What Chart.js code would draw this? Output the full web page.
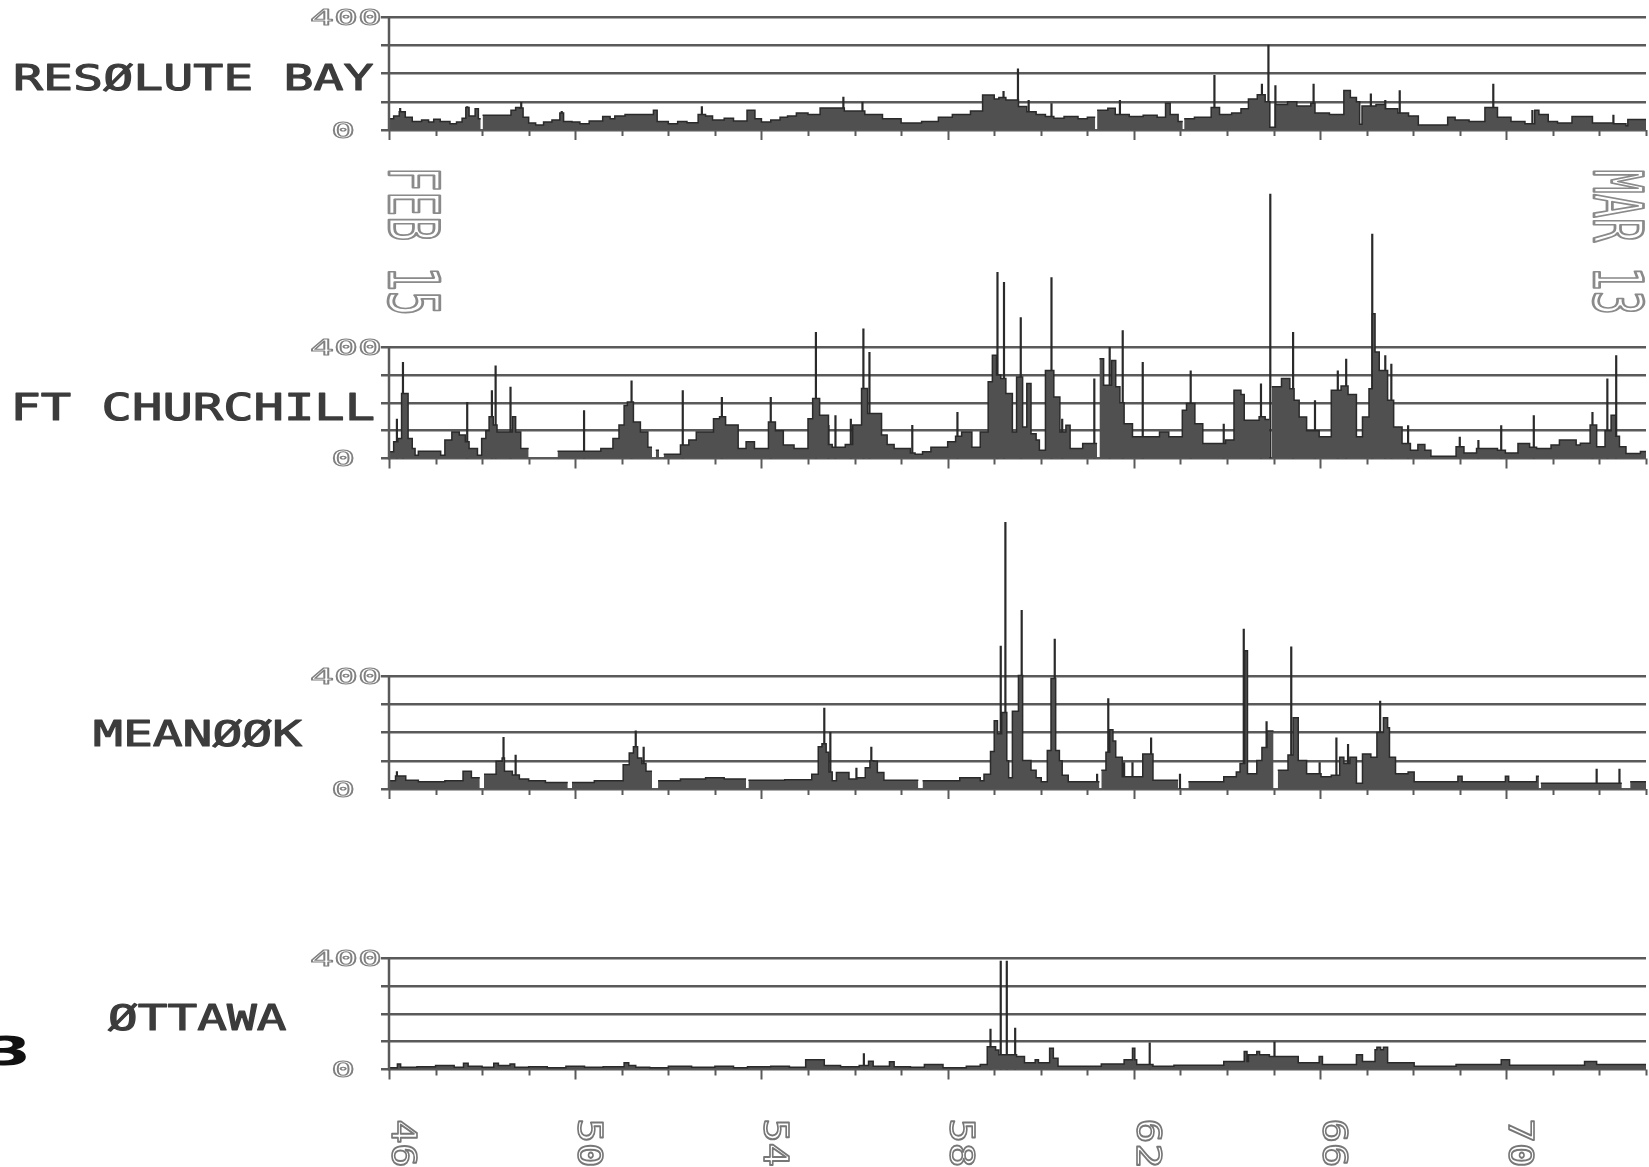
<!DOCTYPE html>
<html>
<head>
<meta charset="utf-8">
<script src="https://cdn.jsdelivr.net/npm/chart.js@4.4.1/dist/chart.umd.min.js"></script>
<style>
  html, body { margin: 0; padding: 0; background: #fff; }
  #wrap { position: relative; width: 1649px; height: 1167px; overflow: hidden; }
  #wrap canvas { position: absolute; left: 0; top: 0; }
</style>
</head>
<body>
<div id="wrap">
  <canvas id="c0" width="1649" height="1167"></canvas>
  <canvas id="c1" width="1649" height="1167"></canvas>
  <canvas id="c2" width="1649" height="1167"></canvas>
  <canvas id="c3" width="1649" height="1167"></canvas>
</div>
<script>
// day of year, Feb 15 (46) .. end of Mar 13 (73)
const dayMin = 46;
const dayMax = 73;
const xTickValues = [46, 50, 54, 58, 62, 66, 70];
const xTickLabels = ["46", "50", "54", "58", "62", "66", "70"];
const yGridValues = [0, 100, 200, 300, 400];
const yLabelValues = [0, 400];
const yLabelText = ["0", "400"];
const stations = ["RESØLUTE BAY", "FT CHURCHILL", "MEANØØK", "ØTTAWA"];
const dateLabels = ["FEB 15", "MAR 13"];

// [day, value] step levels (null = no data)
const resoluteBase = [
  [46.00, 40], [46.10, 50], [46.22, 65], [46.35, 45], [46.50, 30], [46.70, 35], [46.85, 28], [46.96, 38],
  [47.10, 30], [47.31, 22], [47.45, 28], [47.57, 42], [47.65, 80], [47.72, 50], [47.85, 75], [47.92, 40],
  [47.97, null], [48.01, 52], [48.62, 70], [48.72, 80], [48.80, 78], [48.88, 45], [49.00, 25], [49.15, 18],
  [49.32, 28], [49.50, 35], [49.67, 60], [49.75, 30], [49.93, 28], [50.10, 22], [50.30, 32], [50.59, 48],
  [50.75, 40], [50.85, 50], [51.07, 55], [51.68, 70], [51.76, 30], [52.00, 22], [52.20, 30], [52.40, 26],
  [52.64, 55], [52.80, 50], [52.95, 35], [53.20, 42], [53.40, 32], [53.69, 70], [53.86, 40], [54.00, 28],
  [54.20, 35], [54.40, 45], [54.56, 50], [54.75, 60], [55.00, 55], [55.26, 78], [55.78, 67], [56.22, 55],
  [56.60, 40], [57.00, 25], [57.44, 30], [57.80, 45], [58.10, 55], [58.49, 67], [58.75, 124], [59.00, 110],
  [59.10, 115], [59.25, 106], [59.52, 83], [59.70, 65], [59.90, 55], [60.10, 48], [60.28, 42], [60.50, 48],
  [60.80, 40], [61.00, 45], [61.17, null], [61.21, 70], [61.44, 77], [61.60, 55], [61.90, 48], [62.20, 52],
  [62.50, 45], [62.68, 95], [62.78, 55], [62.95, 30], [63.05, null], [63.08, 40], [63.30, 45], [63.66, 80],
  [63.84, 55], [64.10, 60], [64.30, 75], [64.46, 110], [64.65, 125], [64.82, 100], [64.92, 10], [65.04, 90],
  [65.30, 100], [65.50, 85], [65.80, 95], [65.89, 60], [66.20, 55], [66.51, 140], [66.65, 115], [66.78, 100],
  [66.85, 20], [66.90, 85], [67.20, 90], [67.40, 75], [67.67, 60], [67.90, 50], [68.11, 18], [68.74, 45],
  [68.90, 35], [69.20, 30], [69.54, 80], [69.81, 45], [70.10, 30], [70.40, 22], [70.61, 70], [70.70, 55],
  [70.90, 30], [71.10, 25], [71.41, 48], [71.85, 25], [72.30, 22], [72.57, 15], [72.61, 37]
];
const resoluteSpikes = [
  [46.24, 78], [47.68, 84], [48.84, 99], [49.71, 67], [52.72, 84], [55.76, 118], [56.17, 100], [59.20, 138],
  [59.51, 218], [59.74, 106], [60.23, 95], [61.70, 106], [63.73, 195], [64.75, 164], [64.89, 302], [65.04, 158],
  [65.86, 164], [67.09, 129], [67.40, 106], [67.71, 141], [69.72, 164], [70.56, 71], [72.30, 54]
];

const churchillBase = [
  [46.00, 24], [46.10, 60], [46.19, 72], [46.27, 233], [46.41, 72], [46.50, 36], [46.56, 12], [46.63, 26],
  [47.11, 12], [47.20, 66], [47.35, 95], [47.51, 84], [47.64, 60], [47.72, 36], [47.90, 12], [47.99, 72],
  [48.08, 100], [48.15, 150], [48.24, 120], [48.32, 95], [48.58, 95], [48.65, 150], [48.72, 95], [48.83, 36],
  [49.00, null], [49.62, 26], [50.55, 36], [50.81, 72], [50.94, 120], [51.05, 190], [51.12, 203], [51.25, 131],
  [51.40, 95], [51.56, 40], [51.65, null], [51.73, 30], [51.80, null], [51.90, 15], [52.26, 48], [52.44, 66],
  [52.60, 95], [52.79, 95], [52.97, 143], [53.10, 150], [53.23, 120], [53.50, 36], [53.67, 60], [53.85, 36],
  [54.15, 131], [54.30, 100], [54.47, 48], [54.70, 36], [55.00, 143], [55.10, 215], [55.25, 155], [55.44, 50],
  [55.52, 40], [55.80, 50], [55.96, 120], [56.15, 251], [56.28, 161], [56.58, 84], [56.70, 50], [56.85, 36],
  [57.20, 20], [57.30, 15], [57.46, 24], [57.64, 40], [58.00, 60], [58.17, 80], [58.30, 95], [58.52, 40],
  [58.70, 95], [58.87, 275], [58.96, 370], [59.05, 300], [59.14, 287], [59.25, 233], [59.39, 95], [59.48, 292],
  [59.61, 113], [59.70, 269], [59.79, 89], [59.90, 66], [59.97, 30], [60.10, 316], [60.28, 221], [60.41, 95],
  [60.54, 119], [60.63, 36], [60.90, 54], [61.21, null], [61.26, 358], [61.35, 263], [61.52, 352], [61.61, 257],
  [61.70, 200], [61.79, 125], [61.97, 78], [62.55, 95], [62.75, 78], [63.04, 173], [63.13, 197], [63.31, 125],
  [63.48, 54], [63.97, 66], [64.15, 245], [64.30, 230], [64.37, 137], [64.69, 150], [64.82, 140], [64.91, null],
  [64.96, 257], [65.17, 287], [65.35, 250], [65.44, 209], [65.55, 149], [65.71, 100], [65.98, 78], [66.24, 245],
  [66.45, 260], [66.60, 230], [66.78, 78], [66.91, 149], [67.05, 250], [67.12, 519], [67.18, 382], [67.27, 316],
  [67.45, 209], [67.58, 113], [67.76, 54], [67.94, 30], [68.10, 50], [68.25, 30], [68.38, 8], [68.92, 42],
  [69.09, 20], [69.36, 36], [69.81, 30], [69.98, 20], [70.25, 54], [70.50, 40], [70.65, 36], [70.96, 48],
  [71.14, 66], [71.50, 48], [71.59, 55], [71.80, 120], [71.94, 42], [72.12, 100], [72.25, 155], [72.35, 80],
  [72.43, 42], [72.57, 18], [72.88, 25]
];
const churchillSpikes = [
  [46.17, 143], [46.30, 346], [47.68, 203], [48.21, 245], [48.29, 334], [48.61, 257], [50.19, 173], [51.21, 280],
  [52.31, 245], [53.15, 221], [54.20, 221], [55.17, 454], [55.44, 120], [55.59, 155], [55.92, 143], [56.19, 466],
  [56.32, 382], [57.24, 120], [58.21, 167], [59.07, 669], [59.21, 633], [59.57, 507], [60.23, 650], [60.46, 143],
  [61.15, 287], [61.48, 400], [61.76, 460], [62.19, 346], [63.22, 316], [63.93, 125], [64.73, 269], [64.93, 950],
  [65.42, 454], [65.89, 209], [66.38, 316], [66.56, 358], [67.12, 806], [67.40, 370], [67.53, 340], [67.89, 119],
  [69.00, 78], [69.40, 66], [69.89, 119], [70.59, 155], [71.85, 167], [72.17, 287], [72.36, 370]
];

const meanookBase = [
  [46.00, 29], [46.14, 46], [46.36, 31], [46.63, 26], [47.20, 29], [47.59, 63], [47.77, 40], [47.95, null],
  [48.04, 52], [48.30, 98], [48.43, 110], [48.48, 63], [48.65, 50], [48.80, 35], [49.00, 29], [49.36, 23],
  [49.84, null], [49.93, 23], [50.41, 29], [51.03, 86], [51.16, 127], [51.25, 150], [51.34, 110], [51.43, 90],
  [51.52, 63], [51.65, null], [51.78, 29], [52.26, 35], [52.80, 40], [53.20, 35], [53.67, null], [53.72, 31],
  [54.50, 33], [55.08, 52], [55.22, 150], [55.30, 160], [55.39, 130], [55.45, 60], [55.52, 29], [55.61, 58],
  [55.88, 35], [56.05, 40], [56.23, 75], [56.33, 100], [56.41, 98], [56.49, 58], [56.63, 31], [57.37, null],
  [57.46, 29], [58.26, 40], [58.70, 29], [58.78, 52], [58.92, 133], [59.00, 242], [59.07, 196], [59.16, 271],
  [59.27, 100], [59.31, 40], [59.39, 275], [59.52, 402], [59.61, 101], [59.79, 66], [59.90, 40], [60.01, 26],
  [60.14, 136], [60.22, 391], [60.32, 136], [60.40, 100], [60.46, 49], [60.59, 26], [61.26, null], [61.30, 66],
  [61.40, 130], [61.48, 210], [61.55, 170], [61.61, 112], [61.75, 43], [62.19, 124], [62.41, 31], [62.95, null],
  [63.17, 26], [63.93, 43], [64.20, 60], [64.28, 90], [64.38, 489], [64.44, 54], [64.64, 101], [64.75, 147],
  [64.86, 205], [65.00, null], [65.09, 66], [65.31, 120], [65.42, 252], [65.53, 101], [65.71, 54], [66.02, 43],
  [66.24, 49], [66.42, 112], [66.51, 90], [66.64, 112], [66.78, 20], [66.91, 124], [67.09, 112], [67.22, 200],
  [67.36, 252], [67.45, 217], [67.49, 112], [67.62, 54], [67.89, 60], [68.02, 26], [68.96, 45], [69.05, 26],
  [69.98, 45], [70.05, 26], [70.65, 45], [70.70, null], [70.74, 20], [72.48, null], [72.66, 26]
];
const meanookSpikes = [
  [46.17, 63], [48.46, 184], [48.72, 121], [51.30, 207], [51.47, 150], [55.35, 288], [55.48, 202], [56.04, 75],
  [56.36, 150], [59.14, 507], [59.24, 945], [59.59, 634], [60.30, 532], [61.21, 54], [61.45, 321], [61.79, 95],
  [61.97, 95], [62.37, 182], [62.99, 54], [64.36, 567], [64.85, 240], [64.95, 205], [65.38, 504], [65.99, 95],
  [66.35, 182], [66.60, 159], [67.29, 312], [71.94, 72], [72.43, 72]
];

const ottawaBase = [
  [46.00, 6], [46.18, 20], [46.25, 8], [46.60, 10], [47.00, 14], [47.40, 8], [47.60, 22], [47.70, 12],
  [48.00, 8], [48.25, 22], [48.35, 14], [48.60, 20], [48.70, 8], [49.00, 10], [49.40, 6], [49.80, 12],
  [50.20, 8], [50.60, 10], [51.05, 24], [51.15, 14], [51.30, 8], [51.60, 6], [52.00, 12], [52.50, 8],
  [53.00, 12], [53.40, 6], [53.70, 10], [54.20, 12], [54.60, 8], [54.95, 35], [55.35, 14], [55.70, 10],
  [56.10, 14], [56.30, 30], [56.40, 12], [56.75, 28], [56.85, 10], [57.20, 8], [57.50, 18], [57.90, 6],
  [58.40, 12], [58.70, 18], [58.85, 82], [59.03, 70], [59.10, 53], [59.48, 47], [59.65, 24], [59.88, 35],
  [59.95, 24], [60.19, 76], [60.27, 40], [60.37, 12], [61.30, 20], [61.79, 35], [61.97, 76], [62.02, 35],
  [62.06, 18], [62.41, 12], [62.86, 15], [63.93, 29], [64.37, 65], [64.43, 29], [64.46, 53], [64.64, 65],
  [64.70, 53], [64.91, 47], [65.53, 24], [65.98, 47], [66.05, 18], [66.78, 53], [66.91, 29], [67.18, 71],
  [67.22, 80], [67.30, 71], [67.36, 80], [67.45, 24], [68.02, 12], [68.92, 18], [69.89, 35], [70.07, 15],
  [71.68, 29], [71.94, 18]
];
const ottawaSpikes = [
  [56.20, 58], [58.92, 146], [59.14, 390], [59.27, 390], [59.45, 150], [62.34, 97], [65.02, 100]
];

const seriesBase = [resoluteBase, churchillBase, meanookBase, ottawaBase];
const seriesSpikes = [resoluteSpikes, churchillSpikes, meanookSpikes, ottawaSpikes];

// page layout in px: top of plot area, 400 line, zero line, station label box
const panels = [
  { top: 17, y400: 17, y0: 130, name: { cx: 194.5, cy: 77.5, w: 357 } },
  { top: 180, y400: 347, y0: 458.5, name: { cx: 194.5, cy: 406.5, w: 357 } },
  { top: 505, y400: 676, y0: 789, name: { cx: 198.5, cy: 733, w: 207 } },
  { top: 958, y400: 958, y0: 1069.5, name: { cx: 197, cy: 1017, w: 178 } },
];

const GRID = "#5a5a5a";
const FILL = "#505050";
const EDGE = "#2a2a2a";
const PALE = "#8a8a8a";

function stepPoints(base) {
  const pts = [];
  let prev = null;
  base.forEach(([d, v]) => {
    if (v === null && prev !== null) pts.push({ x: d, y: prev });
    pts.push({ x: d, y: v });
    prev = v;
  });
  if (prev !== null) pts.push({ x: dayMax, y: prev });
  return pts;
}

function spikePoints(spikes) {
  const pts = [];
  spikes.forEach(([d, v]) => {
    pts.push({ x: d, y: 0 }, { x: d, y: v }, { x: d, y: null });
  });
  return pts;
}

// text squeezed to an ink box of w x h, centred on cx,cy
function drawFit(ctx, text, cx, cy, w, h, rot, opts) {
  ctx.save();
  ctx.font = (opts.weight || "normal") + " 100px " + (opts.family || '"DejaVu Sans Mono"');
  const m = ctx.measureText(text);
  const inkW = m.actualBoundingBoxLeft + m.actualBoundingBoxRight;
  const inkH = m.actualBoundingBoxAscent + m.actualBoundingBoxDescent;
  ctx.translate(cx, cy);
  ctx.rotate(rot);
  ctx.scale(w / inkW, h / inkH);
  ctx.textAlign = "left";
  ctx.textBaseline = "alphabetic";
  const x0 = -inkW / 2 + m.actualBoundingBoxLeft;
  const y0 = -inkH / 2 + m.actualBoundingBoxAscent;
  if (opts.fill) {
    ctx.fillStyle = opts.fill;
    ctx.fillText(text, x0, y0);
  }
  if (opts.stroke) {
    ctx.strokeStyle = opts.stroke;
    ctx.lineWidth = opts.lw || 4;
    ctx.lineJoin = "round";
    ctx.strokeText(text, x0, y0);
  }
  ctx.restore();
}

function decor(i) {
  return {
    id: "decor" + i,
    afterDraw(chart) {
      const ctx = chart.ctx;
      const xs = chart.scales.x;
      const ys = chart.scales.y;
      const p = panels[i];
      const left = xs.getPixelForValue(dayMin);
      const zero = ys.getPixelForValue(0);

      ctx.save();
      ctx.strokeStyle = GRID;
      ctx.lineWidth = 2.5;
      ctx.beginPath();
      ctx.moveTo(left, zero + 1);
      ctx.lineTo(left, ys.getPixelForValue(400) - 1);
      ctx.stroke();

      // day ticks under the zero line
      ctx.lineWidth = 2;
      for (let d = dayMin; d <= dayMax; d++) {
        const x = Math.round(xs.getPixelForValue(d)) + 0.5;
        const len = (d - dayMin) % 4 === 0 ? 10 : 6;
        ctx.beginPath();
        ctx.moveTo(x, zero);
        ctx.lineTo(x, zero + len);
        ctx.stroke();
      }
      ctx.restore();

      yLabelValues.forEach((v, k) => {
        const t = yLabelText[k];
        const w = t.length === 1 ? 19 : 68;
        const cx = t.length === 1 ? 343 : 345.5;
        drawFit(ctx, t, cx, ys.getPixelForValue(v), w, 16, 0, { stroke: "#808080", lw: 5 });
      });

      drawFit(ctx, stations[i], p.name.cx, p.name.cy, p.name.w, 28, 0,
        { fill: "#3c3c3c", stroke: "#3c3c3c", lw: 3 });

      if (i === 0) {
        drawFit(ctx, dateLabels[0], xs.getPixelForValue(dayMin) + 25, 242, 142, 52, Math.PI / 2,
          { stroke: PALE, lw: 4 });
        drawFit(ctx, dateLabels[1], xs.getPixelForValue(dayMax) - 27, 241.5, 141, 52, Math.PI / 2,
          { stroke: PALE, lw: 4 });
      }
      if (i === 3) {
        xTickValues.forEach((v, k) => {
          drawFit(ctx, xTickLabels[k], xs.getPixelForValue(v) + 15, 1143, 44, 25, Math.PI / 2,
            { stroke: "#777", lw: 5 });
        });
        drawFit(ctx, "3", 8, 1050, 36, 30, 0, { fill: "#111", weight: "bold", family: '"DejaVu Sans"' });
      }
    },
  };
}

function makeChart(i) {
  const p = panels[i];
  const yMax = (400 * (p.y0 - p.top)) / (p.y0 - p.y400);
  return new Chart(document.getElementById("c" + i), {
    type: "line",
    data: {
      datasets: [
        {
          data: stepPoints(seriesBase[i]),
          stepped: true,
          fill: "origin",
          backgroundColor: FILL,
          borderColor: EDGE,
          borderWidth: 1.5,
          pointRadius: 0,
          spanGaps: false,
        },
        {
          data: spikePoints(seriesSpikes[i]),
          fill: false,
          borderColor: EDGE,
          borderWidth: 2.2,
          borderCapStyle: "butt",
          pointRadius: 0,
          spanGaps: false,
        },
      ],
    },
    options: {
      responsive: false,
      animation: false,
      events: [],
      layout: { padding: { left: 381, right: 3, top: p.top, bottom: 1167 - p.y0 } },
      plugins: { legend: { display: false }, tooltip: { enabled: false } },
      scales: {
        x: { type: "linear", min: dayMin, max: dayMax, display: false },
        y: {
          min: 0,
          max: yMax,
          afterBuildTicks: (s) => {
            s.ticks = yGridValues.map((v) => ({ value: v }));
          },
          afterFit: (s) => {
            s.width = 8;
          },
          ticks: { display: false },
          border: { display: false },
          grid: { color: GRID, lineWidth: 2.5, tickLength: 8, drawTicks: true },
        },
      },
    },
    plugins: [decor(i)],
  });
}

[0, 1, 2, 3].forEach(makeChart);
</script>
</body>
</html>
